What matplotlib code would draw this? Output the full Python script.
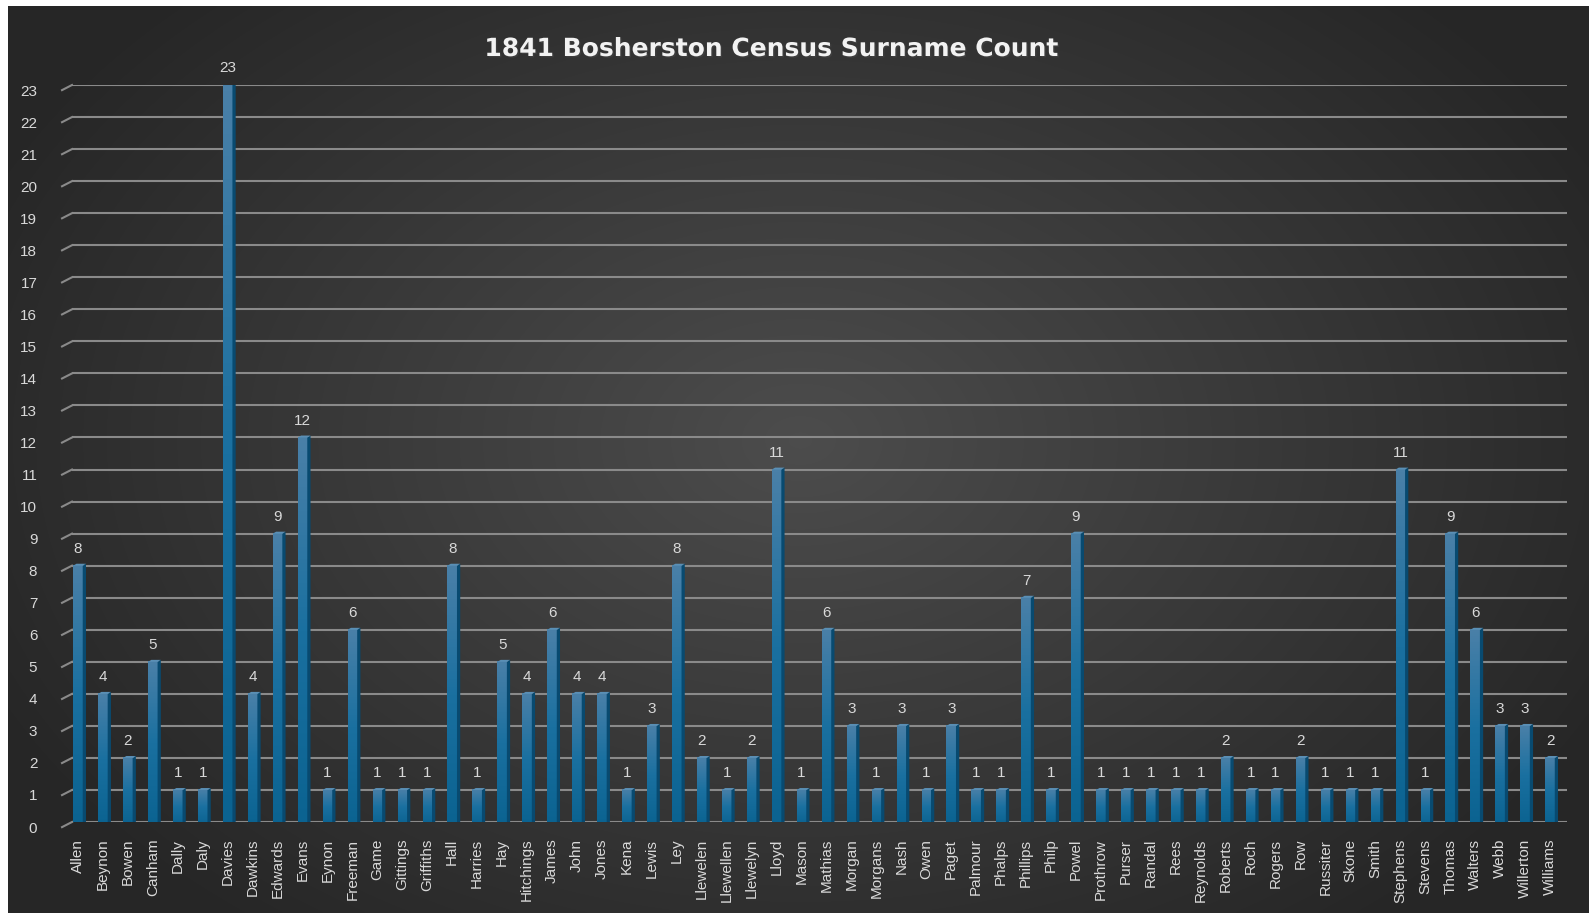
import numpy as np
import matplotlib
matplotlib.use("Agg")
import matplotlib.pyplot as plt
import matplotlib.transforms as mtransforms
import matplotlib.patheffects as pe
from matplotlib.patches import Polygon
from matplotlib.colors import LinearSegmentedColormap

surnames = ["Allen", "Beynon", "Bowen", "Canham", "Dally", "Daly", "Davies", "Dawkins",
            "Edwards", "Evans", "Eynon", "Freeman", "Game", "Gittings", "Griffiths", "Hall",
            "Harries", "Hay", "Hitchings", "James", "John", "Jones", "Kena", "Lewis", "Ley",
            "Llewelen", "Llewellen", "Llewelyn", "Lloyd", "Mason", "Mathias", "Morgan",
            "Morgans", "Nash", "Owen", "Paget", "Palmour", "Phalps", "Phillips", "Philp",
            "Powel", "Prothrow", "Purser", "Randal", "Rees", "Reynolds", "Roberts", "Roch",
            "Rogers", "Row", "Russiter", "Skone", "Smith", "Stephens", "Stevens", "Thomas",
            "Walters", "Webb", "Willerton", "Williams"]
counts = [8, 4, 2, 5, 1, 1, 23, 4, 9, 12, 1, 6, 1, 1, 1, 8,
          1, 5, 4, 6, 4, 4, 1, 3, 8,
          2, 1, 2, 11, 1, 6, 3,
          1, 3, 1, 3, 1, 1, 7, 1,
          9, 1, 1, 1, 1, 1, 2, 1,
          1, 2, 1, 1, 1, 11, 1, 9,
          6, 3, 3, 2]
y_ticks = list(range(0, 24))

W, H = 1589, 913
fig = plt.figure(figsize=(W / 100, H / 100), dpi=100)
fig.patch.set_facecolor("white")

# background panel with radial gradient
bg = fig.add_axes([0, 0, 1, 1], zorder=0)
bg.set_xlim(0, W)
bg.set_ylim(H, 0)
bg.axis("off")
yy, xx = np.mgrid[6:H:2, 8:W:2]
r = np.sqrt(((xx - 800) / 900.0) ** 2 + ((yy - 440) / 620.0) ** 2)
r = np.clip(r, 0, 1)
shade = 0.30 - 0.15 * r
img = np.dstack([shade, shade, shade])
bg.imshow(img, extent=[8, W, H, 6], aspect="auto", interpolation="bilinear")

ax = fig.add_axes([72 / W, 1 - 822 / H, (1567 - 72) / W, (822 - 85) / H], zorder=1)
ax.patch.set_alpha(0)
ax.set_xlim(-0.24, 59.68)
ax.set_ylim(0, 23)
for s in ax.spines.values():
    s.set_visible(False)

grid_col = "#8a8a8a"
for v in y_ticks:
    ax.plot([-0.24, 59.68], [v, v], color=grid_col, lw=1.5, zorder=1, solid_capstyle="butt")
    ax.plot([-0.64, -0.24], [v - 0.16, v], color=grid_col, lw=1.5, zorder=1, clip_on=False)

front_cmap = LinearSegmentedColormap.from_list("front", ["#0b6391", "#1a70a0", "#4a80a8"])
grad = np.linspace(0, 1, 100).reshape(-1, 1)
half = 0.19
dx, dy = 0.13, 0.06
for i, (name, h) in enumerate(zip(surnames, counts)):
    x0, x1 = i - half, i + half
    ax.imshow(grad, extent=[x0, x1, -0.08, h], origin="lower", cmap=front_cmap,
              aspect="auto", zorder=3, interpolation="bilinear")
    side = Polygon([(x1, -0.08), (x1 + dx, dy - 0.08), (x1 + dx, h + dy), (x1, h)],
                   closed=True, facecolor="#084a70", edgecolor="none", zorder=3)
    top = Polygon([(x0, h), (x0 + dx, h + dy), (x1 + dx, h + dy), (x1, h)],
                  closed=True, facecolor="#5a8fb5", edgecolor="none", zorder=3)
    ax.add_patch(side)
    ax.add_patch(top)
    ax.annotate(str(h), (i, h), xytext=(0, 7), textcoords="offset points",
                ha="center", va="bottom", color="#d9d9d9", fontsize=11,
                family="Liberation Sans", annotation_clip=False)

ax.set_xlim(-0.24, 59.68)
ax.set_ylim(0, 23)
ax.set_xticks(range(len(surnames)))
ax.set_xticklabels(surnames, rotation=90, family="Liberation Sans", fontsize=11, color="#d9d9d9")
ax.set_yticks(y_ticks)
ax.set_yticklabels([str(v) for v in y_ticks], family="Liberation Sans", fontsize=11, color="#d9d9d9")
ax.tick_params(axis="x", length=0, pad=12)
ax.tick_params(axis="y", length=0, pad=25)
off = mtransforms.ScaledTranslation(0, -5 / 100, fig.dpi_scale_trans)
for lab in ax.get_yticklabels():
    lab.set_transform(lab.get_transform() + off)

fig.text(772 / W, 1 - 49 / H, "1841 Bosherston Census Surname Count", ha="center", va="center",
         fontsize=18, fontweight="bold", family="DejaVu Sans", color="#f2f2f2",
         path_effects=[pe.withSimplePatchShadow(offset=(1, -1), alpha=0.5)])

fig.savefig("out.png", dpi=100)
